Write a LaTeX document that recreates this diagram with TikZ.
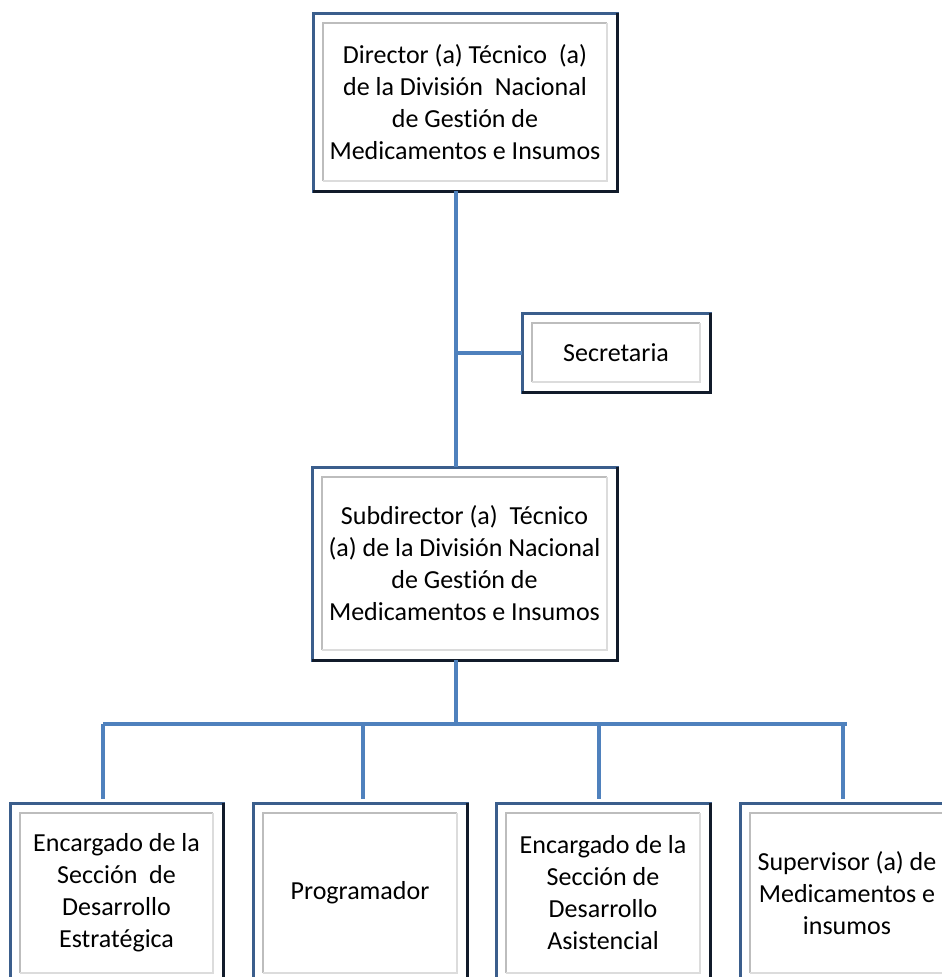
\documentclass[tikz,border=0pt]{standalone}
\usepackage{fontspec}
\setmainfont{Carlito}[Ligatures=NoCommon]
\definecolor{linkblue}{HTML}{4F81BD}
\definecolor{edgeblue}{HTML}{3B5E8C}
\definecolor{edgedark}{HTML}{111B2A}
\definecolor{framegray}{HTML}{BDBDBD}
\definecolor{framelight}{HTML}{DCDCDC}
\begin{document}
\begin{tikzpicture}[x=1pt,y=-1pt,
  orgbox/.style={draw=edgeblue, line width=3pt, fill=white, inner sep=0pt, outer sep=0pt,
    align=center, font=\fontsize{26}{32}\selectfont},
  link/.style={draw=linkblue, line width=4pt}]
\useasboundingbox[fill=white] (0,0) rectangle (942,977);
\begin{scope}
\clip (0,0) rectangle (942,977);
% connector coordinates
\coordinate (spine) at (456,0);
\coordinate (busL) at (103,724);
\coordinate (busR) at (847,724);
\coordinate (d1) at (103,724);
\coordinate (d2) at (363,724);
\coordinate (d3) at (599,724);
\coordinate (d4) at (843,724);
% nodes
\node[orgbox, minimum width=304pt, minimum height=178pt] (dir) at (465,102)
  {Director (a) Técnico\ \ (a)\\de la División\ \ Nacional\\de Gestión de\\Medicamentos e Insumos};
\node[orgbox, minimum width=188pt, minimum height=79pt] (sec) at (616,352.5) {Secretaria};
\node[orgbox, minimum width=305pt, minimum height=193pt] (sub) at (464.5,563.5)
  {Subdirector (a)\ \ Técnico\\(a) de la División Nacional\\de Gestión de\\Medicamentos e Insumos};
\node[orgbox, minimum width=213pt, minimum height=180pt] (b1) at (116.5,893)
  {Encargado de la\\Sección\ \ de\\Desarrollo\\Estratégica};
\node[orgbox, minimum width=214pt, minimum height=180pt] (b2) at (360,893) {Programador};
\node[orgbox, minimum width=214pt, minimum height=180pt] (b3) at (603,893)
  {Encargado de la\\Sección de\\Desarrollo\\Asistencial};
\node[orgbox, minimum width=214pt, minimum height=180pt] (b4) at (847,893)
  {Supervisor (a) de\\Medicamentos e\\insumos};
% box decorations
\foreach \n in {dir,sec,sub,b1,b2,b3,b4}{
  \draw[edgedark, line width=3pt] (\n.north east) -- (\n.south east) -- (\n.south west);
  \draw[framegray, line width=1.6pt]
    ([shift={(10,-10)}]\n.south west) -- ([shift={(10,10)}]\n.north west) -- ([shift={(-10,10)}]\n.north east);
  \draw[framelight, line width=1.6pt]
    ([shift={(-10,10)}]\n.north east) -- ([shift={(-10,-10)}]\n.south east) -- ([shift={(10,-10)}]\n.south west);
}
% connectors
\draw[link] (dir.south -| spine) -- (sub.north -| spine);
\draw[link] (sec.west -| spine) -- (sec.west);
\draw[link] (sub.south -| spine) -- (spine |- busL);
\draw[link] (busL) -- (busR);
\draw[link, shorten >=4pt] (d1) -- (d1 |- b1.north);
\draw[link, shorten >=4pt] (d2) -- (d2 |- b2.north);
\draw[link, shorten >=4pt] (d3) -- (d3 |- b3.north);
\draw[link, shorten >=4pt] (d4) -- (d4 |- b4.north);
\end{scope}
\end{tikzpicture}
\end{document}
